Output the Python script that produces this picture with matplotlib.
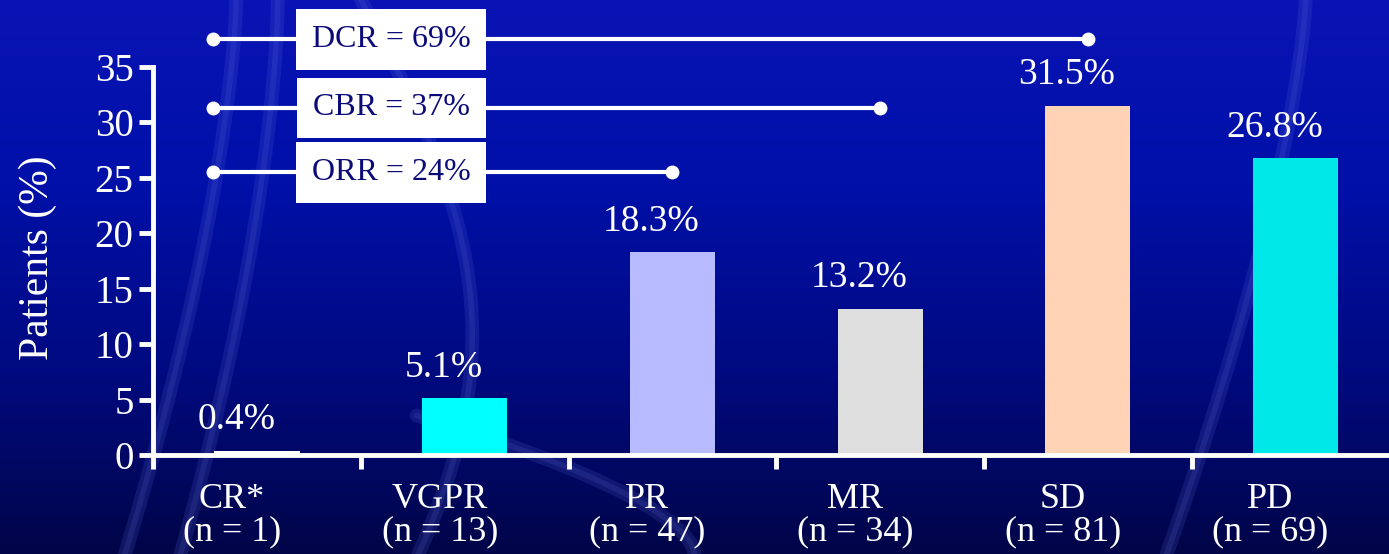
import numpy as np
import matplotlib.pyplot as plt
from matplotlib.colors import LinearSegmentedColormap

# response categories and share of patients
categories = ['CR*', 'VGPR', 'PR', 'MR', 'SD', 'PD']
counts = [1, 13, 47, 34, 81, 69]
percents = [0.4, 5.1, 18.3, 13.2, 31.5, 26.8]
bar_colors = ['#FFFFFF', '#00FFFF', '#B8BBFF', '#DEDEDE', '#FFD3B5', '#00E8E8']

# cumulative rates, each spanning CR up to the last category included
rate_names = ['DCR', 'CBR', 'ORR']
rate_values = [69, 37, 24]
rate_end = [4, 3, 2]          # index of last category in each rate
rate_y = [37.5, 31.3, 25.5]   # height of each bracket line

plt.rcParams['font.family'] = ['Liberation Serif', 'DejaVu Serif']

fig = plt.figure(figsize=(13.89, 5.54), dpi=100)

# dark blue backdrop, lighter at the top
bg = fig.add_axes([0, 0, 1, 1], zorder=-10)
grad = np.linspace(0, 1, 256).reshape(-1, 1)
cmap = LinearSegmentedColormap.from_list('bg', ['#0A14B4', '#0010A8', '#000A80', '#000548'])
bg.imshow(grad, aspect='auto', cmap=cmap, extent=[0, 1, 0, 1], origin='upper')
# faint strands across the backdrop
t = np.linspace(0, 1, 200)
strands = [
    (0.17 - 0.08 * t ** 1.5, 1 - t),
    (0.20 - 0.07 * t ** 1.6, 1 - t),
    (0.26 + 0.08 * np.sin(t * 2.6), 1 - t),
    (0.94 - 0.10 * t ** 1.4, 1 - t),
    (0.50 - 0.20 * (1 - t), 0.25 * (1 - t) ** 0.6),
]
for sx, sy in strands:
    bg.plot(sx, sy, color='#5A68D8', lw=10, alpha=0.18, solid_capstyle='round')
    bg.plot(sx, sy, color='#7C88E8', lw=4, alpha=0.12)
bg.set_xlim(0, 1)
bg.set_ylim(0, 1)
bg.axis('off')

ax = fig.add_axes([0.1102, 0.1787, 0.8898, 0.7004])
ax.patch.set_alpha(0)
x = np.arange(len(categories))
ax.bar(x, percents, width=0.41, color=bar_colors, zorder=2)

# value labels sit a little left of the bar centres
for xi, p in zip(x, percents):
    ax.text(xi - 0.1, p + 1.2, f'{p}%', ha='center', va='bottom', color='white', fontsize=27)

ax.set_xlim(-0.5, 5.45)
ax.set_ylim(0, 35)
ax.set_yticks(range(0, 36, 5))
# category names also slightly left of centre; tick marks go on the boundaries
ax.set_xticks(x - 0.12)
ax.set_xticklabels([f'{c}\n(n = {n})' for c, n in zip(categories, counts)],
                   color='white', fontsize=26, linespacing=1.0)
ax.set_xticks(np.arange(-0.5, 5.5, 1), minor=True)
ax.tick_params(axis='x', which='major', length=0, pad=20)
ax.tick_params(axis='x', which='minor', length=10, width=3.5, color='white')
ax.tick_params(axis='y', length=10, width=3.5, color='white', labelcolor='white',
               labelsize=28, pad=4)

for side in ['top', 'right']:
    ax.spines[side].set_visible(False)
for side in ['left', 'bottom']:
    ax.spines[side].set_color('white')
    ax.spines[side].set_linewidth(3.5)
    ax.spines[side].set_zorder(3)

# bracket lines with labelled boxes
for name, val, end, yy in zip(rate_names, rate_values, rate_end, rate_y):
    ax.plot([-0.21, end], [yy, yy], color='white', lw=3, clip_on=False, zorder=4,
            marker='o', markersize=9, markevery=[0, 1])
    ax.text(0.646, yy, f'{name} = {val}%', ha='center', va='center', fontsize=23,
            color='#0A0A78', zorder=5, clip_on=False,
            bbox=dict(boxstyle='square,pad=0.5', facecolor='white', edgecolor='none'))

fig.text(0.027, 0.534, 'Patients (%)', rotation=90, ha='center', va='center',
         color='white', fontsize=30)

fig.savefig('out.png', dpi=100)
